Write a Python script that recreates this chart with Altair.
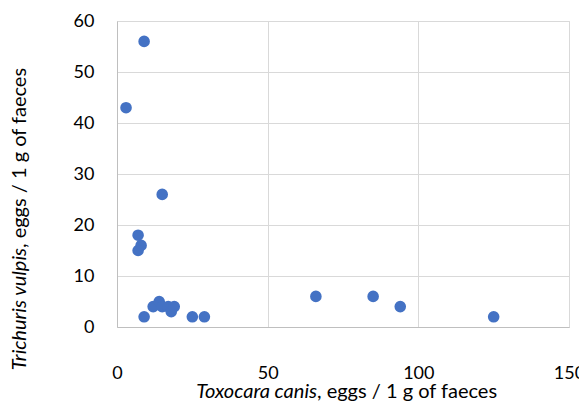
import altair as alt
import pandas as pd

toxocara = [9, 3, 15, 7, 8, 7, 9, 12, 14, 15, 17, 18, 19, 25, 29, 66, 85, 94, 125]
trichuris = [56, 43, 26, 18, 16, 15, 2, 4, 5, 4, 4, 3, 4, 2, 2, 6, 6, 4, 2]
x_ticks = [0, 50, 100, 150]
y_ticks = [0, 10, 20, 30, 40, 50, 60]

df = pd.DataFrame({"x": toxocara, "y": trichuris})
FONT = "Lato"
TF = 20

points = alt.Chart(df).mark_circle(size=135, opacity=1, color="#4472C4").encode(
    x=alt.X("x:Q", scale=alt.Scale(domain=[0, 150], nice=False),
            axis=alt.Axis(values=x_ticks, title=None, grid=True, tickSize=0,
                          labelPadding=37, labelFontSize=18, labelFont=FONT,
                          labelFlush=False, labelOverlap=False,
                          labelColor="#000000", domainColor="#bfbfbf",
                          gridColor="#d9d9d9")),
    y=alt.Y("y:Q", scale=alt.Scale(domain=[0, 60], nice=False),
            axis=alt.Axis(values=y_ticks, title=None, grid=True, tickSize=0,
                          labelPadding=23, labelFontSize=18, labelFont=FONT,
                          labelFlush=False, labelOverlap=False,
                          labelColor="#000000", domainColor="#bfbfbf",
                          gridColor="#d9d9d9")),
)

tx_it = alt.Chart(pd.DataFrame({"t": ["Toxocara canis"]})).mark_text(
    font=FONT, fontSize=TF, fontStyle="italic", align="right", baseline="alphabetic", color="#000000"
).encode(text="t:N", x=alt.value(200), y=alt.value(377))
tx_rg = alt.Chart(pd.DataFrame({"t": [", eggs / 1 g of faeces"]})).mark_text(
    font=FONT, fontSize=TF, align="left", baseline="alphabetic", color="#000000"
).encode(text="t:N", x=alt.value(200), y=alt.value(377))

ty_it = alt.Chart(pd.DataFrame({"t": ["Trichuris vulpis"]})).mark_text(
    font=FONT, fontSize=TF, fontStyle="italic", align="right", baseline="middle", angle=270, color="#000000"
).encode(text="t:N", x=alt.value(-97), y=alt.value(227))
ty_rg = alt.Chart(pd.DataFrame({"t": [", eggs / 1 g of faeces"]})).mark_text(
    font=FONT, fontSize=TF, align="left", baseline="middle", angle=270, color="#000000"
).encode(text="t:N", x=alt.value(-97), y=alt.value(227))

chart = alt.layer(points, tx_it, tx_rg, ty_it, ty_rg).properties(
    width=452, height=306,
    autosize=alt.AutoSizeParams(type="none"),
    padding={"left": 109, "top": 13, "right": 10, "bottom": 74},
).configure_view(stroke="#d9d9d9", strokeWidth=1)

chart.save("out.html", embed_options={"renderer": "svg", "actions": False})
